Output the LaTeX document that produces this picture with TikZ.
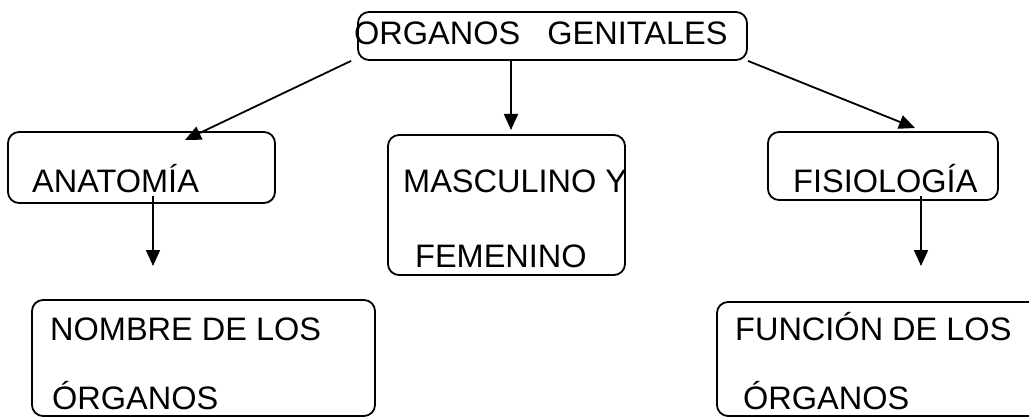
\documentclass[tikz,border=0pt]{standalone}
\usepackage{fontspec}
\setmainfont{Liberation Sans}
\usetikzlibrary{arrows.meta}
\tikzset{
	box/.style={draw, line width=1.8pt, rounded corners=11pt, inner sep=0pt},
	lbl/.style={anchor=base west, inner sep=0pt, font=\fontsize{32.5}{38}\selectfont},
	arr/.style={line width=1.8pt, -{Triangle[length=16pt,width=14pt]}}
}
\begin{document}
\begin{tikzpicture}[x=1pt, y=-1pt]
	\useasboundingbox (0,0) rectangle (1029,417);
	
	\node[box, minimum width=389pt, minimum height=48pt](top) at (552.5,36) {};
	\node[box, minimum width=267pt, minimum height=71pt](anat) at (141.5,167.5) {};
	\node[box, minimum width=237pt, minimum height=140pt](masc) at (506.5,205) {};
	\node[box, minimum width=230pt, minimum height=68pt](fisio) at (883,166) {};
	\node[box, minimum width=343pt, minimum height=116pt](nombre) at (203.5,358) {};
	\node[box, minimum width=323pt, minimum height=114pt](funcion) at (878.5,359) {};
	
	\node[lbl](topTxt) at (354,45) {ORGANOS\ \ \ GENITALES};
	\node[lbl](anatTxt) at (32,193) {ANATOMÍA};
	\node[lbl](mascTxtA) at (403,193) {MASCULINO Y};
	\node[lbl](mascTxtB) at (415,267) {FEMENINO};
	\node[lbl](fisioTxt) at (793,193) {FISIOLOGÍA};
	\node[lbl](nombreTxtA) at (50,340) {NOMBRE DE LOS};
	\node[lbl](nombreTxtB) at (52,409) {ÓRGANOS};
	\node[lbl](funcionTxtA) at (735,340) {FUNCIÓN DE LOS};
	\node[lbl](funcionTxtB) at (743,409) {ÓRGANOS};
	
	\coordinate(anatTip) at (185,140);
	\coordinate(mascTip) at (511,130);
	\coordinate(fisioTip) at (915,128);
	\coordinate(nombreTip) at (153,266);
	\coordinate(funcionTip) at (921,266);
	
	\draw[arr] ([xshift=-6pt]top.south west) -- (anatTip);
	\draw[arr] (top.south -| mascTip) -- (mascTip);
	\draw[arr] (top.south east) -- (fisioTip);
	\draw[arr] ([yshift=8pt]anat.south -| nombreTip) -- (nombreTip);
	\draw[arr] ([yshift=5pt]fisio.south -| funcionTip) -- (funcionTip);
\end{tikzpicture}
\end{document}
